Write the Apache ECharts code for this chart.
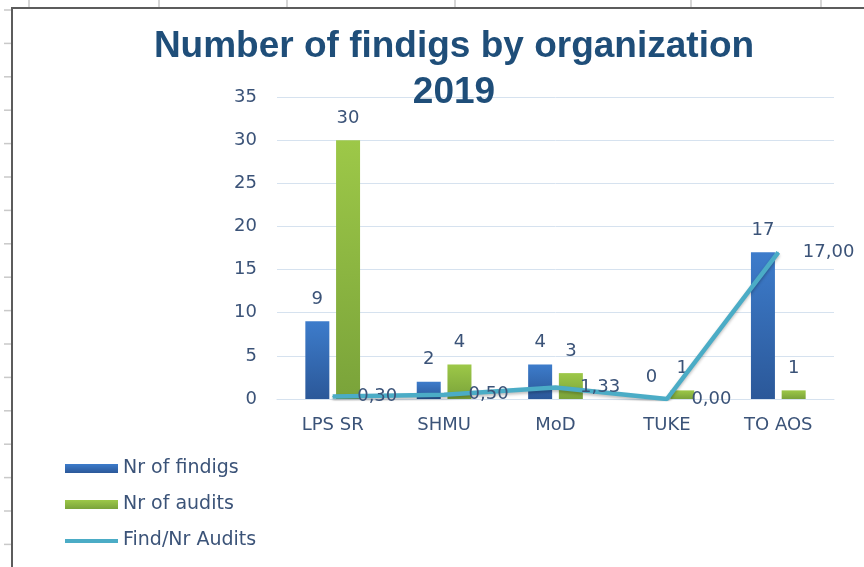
<!DOCTYPE html>
<html>
<head>
<meta charset="utf-8">
<script src="https://cdn.jsdelivr.net/npm/echarts@6/dist/echarts.min.js"></script>
<style>html,body{margin:0;padding:0;background:#fff}#c{width:864px;height:567px}</style>
</head>
<body>
<div id="c"></div>
<script>
var categories = ['LPS SR', 'SHMU', 'MoD', 'TUKE', 'TO AOS'];
var findings = [9, 2, 4, 0, 17];
var audits = [30, 4, 3, 1, 1];
var ratio = [0.30, 0.50, 1.33, 0.00, 17.00];
var yTicks = [0, 5, 10, 15, 20, 25, 30, 35];

var txt = '#3B5378';
var font = 'DejaVu Sans';

var deco = [];
deco.push({type:'line', shape:{x1:12, y1:8, x2:12, y2:567}, style:{stroke:'#5c5c5c', lineWidth:2}, z:10});
deco.push({type:'line', shape:{x1:11, y1:8, x2:864, y2:8}, style:{stroke:'#5c5c5c', lineWidth:2}, z:10});
[10, 43.4, 76.8, 110.2, 143.6, 177, 210.4, 243.8, 277.2, 310.6, 344, 377.4, 410.8, 444.2, 477.6, 511, 544.4].forEach(function(y){
  deco.push({type:'line', shape:{x1:4, y1:y, x2:11, y2:y}, style:{stroke:'#c9c9c9', lineWidth:1.5}});
});
[29, 159, 287, 455, 691, 821].forEach(function(x){
  deco.push({type:'line', shape:{x1:x, y1:0, x2:x, y2:7}, style:{stroke:'#c9c9c9', lineWidth:1.5}});
});

var chart = echarts.init(document.getElementById('c'));
chart.setOption({
  animation: false,
  backgroundColor: '#fff',
  title: {
    text: 'Number of findigs by organization\n2019',
    left: 449, top: 19, textAlign: 'center',
    textStyle: {fontFamily: 'Liberation Sans', fontWeight: 'bold', fontSize: 37, color: '#1F4E79', lineHeight: 46}
  },
  graphic: deco,
  legend: {
    orient: 'vertical', left: 60, top: 454, height: 113,
    itemWidth: 53, itemHeight: 9, itemGap: 17,
    textStyle: {fontFamily: font, fontSize: 19, color: txt},
    data: [
      {name: 'Nr of findigs', icon: 'rect'},
      {name: 'Nr of audits', icon: 'rect'},
      {name: 'Find/Nr Audits', icon: 'path://M0,0 L0.01,0 L0.01,0.01 L0,0.01 Z M0,3 L53,3 L53,7 L0,7 Z M52.99,8.99 L53,8.99 L53,9 L52.99,9 Z'}
    ]
  },
  grid: {left: 277, right: 30, top: 97, bottom: 168},
  xAxis: {
    type: 'category', data: categories,
    axisLine: {show: true, lineStyle: {color: '#d6e2ef', width: 1}},
    axisTick: {show: false},
    axisLabel: {fontFamily: font, fontSize: 18, color: txt, margin: 17}
  },
  yAxis: {
    type: 'value', min: 0, max: 35, interval: 5,
    axisLine: {show: false}, axisTick: {show: false},
    splitLine: {lineStyle: {color: '#d6e2ef', width: 1}},
    axisLabel: {fontFamily: font, fontSize: 18, color: txt, margin: 20,
      formatter: function(v){ return yTicks.indexOf(v) >= 0 ? String(v) : ''; }}
  },
  series: [
    {
      name: 'Nr of findigs', type: 'bar', data: findings, barWidth: 24, barGap: '28%',
      itemStyle: {color: new echarts.graphic.LinearGradient(0,0,0,1,[{offset:0,color:'#3D7CCB'},{offset:1,color:'#2B5899'}])},
      label: {show: true, position: 'top', distance: 13, fontFamily: font, fontSize: 18, color: txt}
    },
    {
      name: 'Nr of audits', type: 'bar', data: audits, barWidth: 24,
      itemStyle: {color: new echarts.graphic.LinearGradient(0,0,0,1,[{offset:0,color:'#9DC848'},{offset:1,color:'#7AA33A'}])},
      label: {show: true, position: 'top', distance: 13, fontFamily: font, fontSize: 18, color: txt}
    },
    {
      name: 'Find/Nr Audits', type: 'line', data: ratio, symbol: 'circle', symbolSize: 1, showSymbol: true,
      itemStyle: {color: '#4BACC6'},
      lineStyle: {color: '#4BACC6', width: 4.5, shadowColor: 'rgba(0,0,0,0.25)', shadowBlur: 3, shadowOffsetY: 2},
      label: {show: true, position: 'right', distance: 24, offset: [0, 2], fontFamily: font, fontSize: 18, color: txt,
        formatter: function(p){ return p.value.toFixed(2).replace('.', ','); }},
      labelLayout: {hideOverlap: false},
      z: 5
    }
  ]
});
</script>
</body>
</html>
